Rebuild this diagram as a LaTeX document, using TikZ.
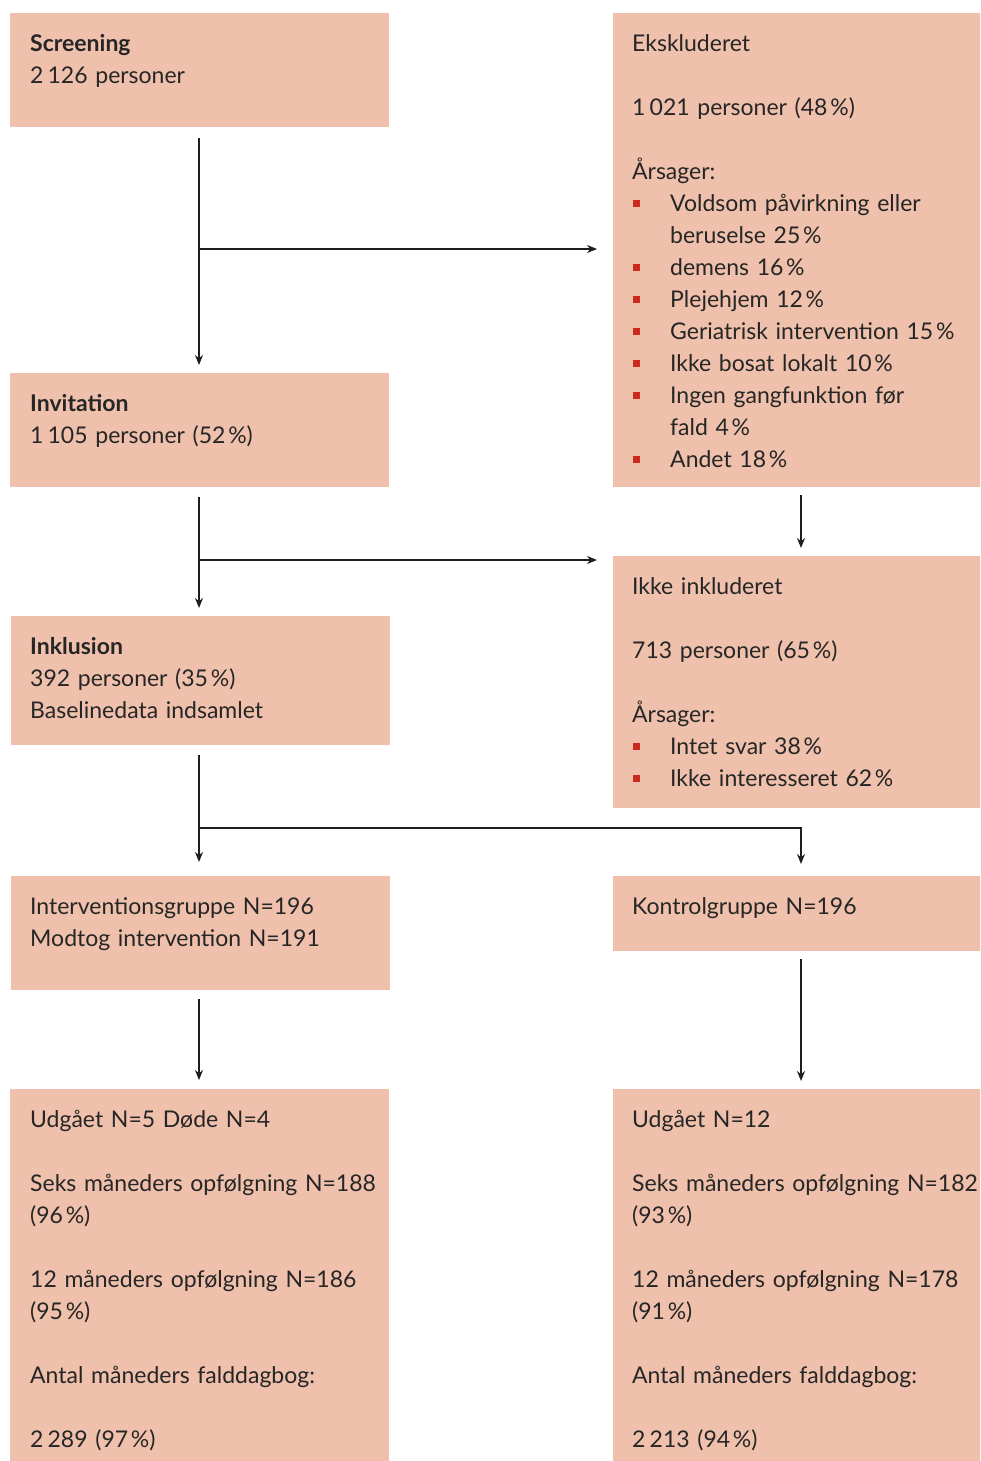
\documentclass[tikz,border=0pt]{standalone}
\usepackage{fontspec}
\setmainfont{Lato}
\usetikzlibrary{arrows.meta,calc}
\definecolor{boxfill}{HTML}{EFC0AB}
\definecolor{bulletred}{HTML}{CC2A1E}
\definecolor{arrowcol}{HTML}{1E1E1E}
\newcommand{\bul}{\hspace*{1pt}\textcolor{bulletred}{\rule[5pt]{7pt}{7pt}}\hspace*{30pt}}
\newcommand{\ind}{\hspace*{38pt}}
\newcommand{\pct}{\hspace{0.12em}\%}
\newcommand{\ths}{\hspace{0.18em}}
\begin{document}
\begin{tikzpicture}[x=1pt,y=-1pt,
  box/.style={rectangle,fill=boxfill,draw=none,inner sep=0,anchor=north west},
  txt/.style={anchor=north west,inner sep=0,align=left,text width=400pt,
    font=\fontsize{23}{32}\selectfont,text=black!85},
  arr/.style={draw=arrowcol,line width=1.4pt,-{Stealth[length=10pt,width=8pt]}},
  ln/.style={draw=arrowcol,line width=1.4pt}]
\useasboundingbox (0,0) rectangle (980,1461);
\clip (0,0) rectangle (980,1461);
% boxes
\node[box,minimum width=379pt,minimum height=114pt] (scr) at (10,13) {};
\node[box,minimum width=376pt,minimum height=474pt] (eks) at (613,13) {};
\node[box,minimum width=379pt,minimum height=114pt] (inv) at (10,373) {};
\node[box,minimum width=376pt,minimum height=252pt] (ikke) at (613,556) {};
\node[box,minimum width=379pt,minimum height=129pt] (inkl) at (11,616) {};
\node[box,minimum width=379pt,minimum height=114pt] (intg) at (11,876) {};
\node[box,minimum width=376pt,minimum height=75pt] (kon) at (613,876) {};
\node[box,minimum width=379pt,minimum height=372pt] (udl) at (10,1089) {};
\node[box,minimum width=376pt,minimum height=372pt] (udr) at (613,1089) {};
% texts
\node[txt] (scrt) at ($(scr.north west)+(20,16)$) {\strut\textbf{Screening}\\2\ths126 personer};
\node[txt] (eksT) at ($(eks.north west)+(19,16)$) {\strut Ekskluderet\\[32pt]
1\ths021 personer (48\pct)\\[32pt]
Årsager:\\
\bul Voldsom påvirkning eller\\
\ind beruselse 25\pct\\
\bul demens 16\pct\\
\bul Plejehjem 12\pct\\
\bul Geriatrisk intervention 15\pct\\
\bul Ikke bosat lokalt 10\pct\\
\bul Ingen gangfunktion før\\
\ind fald 4\pct\\
\bul Andet 18\pct};
\node[txt] (invt) at ($(inv.north west)+(20,16)$) {\strut\textbf{Invitation}\\1\ths105 personer (52\pct)};
\node[txt] (ikket) at ($(ikke.north west)+(19,16)$) {\strut Ikke inkluderet\\[32pt]
713 personer (65\pct)\\[32pt]
Årsager:\\
\bul Intet svar 38\pct\\
\bul Ikke interesseret 62\pct};
\node[txt] (inklt) at ($(inkl.north west)+(19,16)$) {\strut\textbf{Inklusion}\\392 personer (35\pct)\\Baselinedata indsamlet};
\node[txt] (intgt) at ($(intg.north west)+(19,16)$) {\strut Interventionsgruppe N=196\\Modtog intervention N=191};
\node[txt] (kont) at ($(kon.north west)+(19,16)$) {\strut Kontrolgruppe N=196};
\node[txt] (udlt) at ($(udl.north west)+(20,16)$) {\strut Udgået N=5 Døde N=4\\[32pt]
Seks måneders opfølgning N=188\\(96\pct)\\[32pt]
12 måneders opfølgning N=186\\(95\pct)\\[32pt]
Antal måneders falddagbog:\\[32pt]
2\ths289 (97\pct)};
\node[txt] (udrt) at ($(udr.north west)+(19,16)$) {\strut Udgået N=12\\[32pt]
Seks måneders opfølgning N=182\\(93\pct)\\[32pt]
12 måneders opfølgning N=178\\(91\pct)\\[32pt]
Antal måneders falddagbog:\\[32pt]
2\ths213 (94\pct)};
% connectors
\coordinate (b1) at (199,249);
\coordinate (b2) at (199,560);
\coordinate (b3) at (199,828);
\coordinate (b3r) at (801,828);
\draw[arr,shorten <=11pt,shorten >=8pt] (scr.south -| b1) -- (inv.north -| b1);
\draw[arr,line width=1.2pt,shorten >=16pt] (b1) -- (eks.west |- b1);
\draw[arr,shorten <=10pt,shorten >=8pt] (inv.south -| b2) -- (inkl.north -| b2);
\draw[arr,line width=1.2pt,shorten >=16pt] (b2) -- (ikke.west |- b2);
\draw[arr,shorten <=8pt,shorten >=8pt] (eks.south -| b3r) -- (ikke.north -| b3r);
\draw[arr,shorten <=10pt,shorten >=14pt] (inkl.south -| b3) -- (intg.north -| b3);
\draw[arr,line width=1.2pt,shorten >=12pt] (b3) -- (b3r) -- (kon.north -| b3r);
\draw[arr,shorten <=9pt,shorten >=9pt] (intg.south -| b3) -- (udl.north -| b3);
\draw[arr,shorten <=8pt,shorten >=8pt] (kon.south -| b3r) -- (udr.north -| b3r);
\end{tikzpicture}
\end{document}
